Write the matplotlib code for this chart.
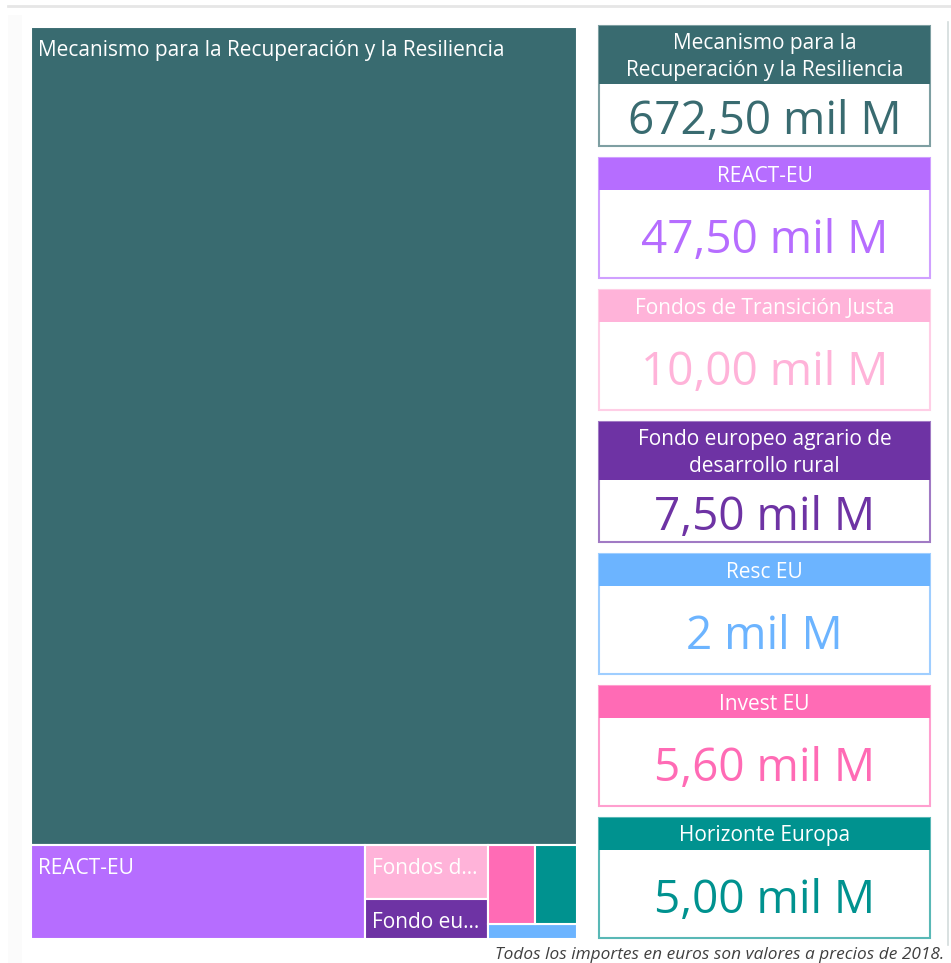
import matplotlib
matplotlib.use("Agg")
import matplotlib.pyplot as plt
from matplotlib.patches import Rectangle
from matplotlib.colors import to_rgb

plt.rcParams['font.family'] = ['Open Sans', 'DejaVu Sans']

# Datos (miles de millones de euros, precios de 2018)
fondos = ["Mecanismo para la Recuperación y la Resiliencia", "REACT-EU",
          "Fondos de Transición Justa", "Fondo europeo agrario de desarrollo rural",
          "Resc EU", "Invest EU", "Horizonte Europa"]
importes = [672.50, 47.50, 10.00, 7.50, 2.00, 5.60, 5.00]
titulos_tarjeta = ["Mecanismo para la\nRecuperación y la Resiliencia", "REACT-EU",
                   "Fondos de Transición Justa", "Fondo europeo agrario de\ndesarrollo rural",
                   "Resc EU", "Invest EU", "Horizonte Europa"]
valores_tarjeta = ["672,50 mil M", "47,50 mil M", "10,00 mil M", "7,50 mil M",
                   "2 mil M", "5,60 mil M", "5,00 mil M"]
colores = ["#396B70", "#B66DFF", "#FFB3D9", "#6E33A4", "#6CB4FF", "#FF6BB5", "#00928F"]
nota = "Todos los importes en euros son valores a precios de 2018."


def squarify(valores, x0, y0, x1, y1, ratio=(1 + 5 ** 0.5) / 2):
    # mismo criterio que d3.treemapSquarify (razón áurea)
    orden = sorted(range(len(valores)), key=lambda i: -valores[i])
    vals = [valores[i] for i in orden]
    total = sum(vals)
    rects = {}
    i0, n = 0, len(vals)
    while i0 < n:
        dx, dy = x1 - x0, y1 - y0
        suma = vals[i0]
        vmin = vmax = suma
        alpha = max(dy / dx, dx / dy) / (total * ratio)
        beta = suma * suma * alpha
        min_ratio = max(vmax / beta, beta / vmin)
        i1 = i0 + 1
        while i1 < n:
            v = vals[i1]
            s2 = suma + v
            beta = s2 * s2 * alpha
            nuevo = max(max(vmax, v) / beta, beta / min(vmin, v))
            if nuevo > min_ratio:
                break
            suma, vmin, vmax, min_ratio = s2, min(vmin, v), max(vmax, v), nuevo
            i1 += 1
        if dx < dy:
            h = dy * suma / total
            xa = x0
            for k in range(i0, i1):
                w = dx * vals[k] / suma
                rects[orden[k]] = (xa, y0, w, h)
                xa += w
            y0 += h
        else:
            w = dx * suma / total
            ya = y0
            for k in range(i0, i1):
                h = dy * vals[k] / suma
                rects[orden[k]] = (x0, ya, w, h)
                ya += h
            x0 += w
        total -= suma
        i0 = i1
    return rects


def aclarar(color, f):
    r, g, b = to_rgb(color)
    return (r + (1 - r) * f, g + (1 - g) * f, b + (1 - b) * f)


fig = plt.figure(figsize=(9.51, 9.63), dpi=100)
ax = fig.add_axes([0, 0, 1, 1])
ax.set_xlim(0, 951)
ax.set_ylim(963, 0)
ax.axis("off")
renderer = fig.canvas.get_renderer()

# fondo del panel
ax.plot([8, 951], [6, 6], color="#e6e6e6", lw=2)
ax.add_patch(Rectangle((8, 15), 14, 948, facecolor="#fbfbfb", edgecolor="none"))
ax.plot([948, 948], [22, 945], color="#d3dcdc", lw=1.2)

# Treemap
rects = squarify(importes, 31, 27, 577, 939)
for i, nombre in enumerate(fondos):
    x, y, w, h = rects[i]
    ax.add_patch(Rectangle((x, y), w, h, facecolor=colores[i], edgecolor="white", lw=1.5))
    if h < 34:
        continue
    t = ax.text(x + 7, y + 29, nombre, color="white", fontsize=15, va="baseline", ha="left")
    txt = nombre
    while t.get_window_extent(renderer).width > w - 12 and txt:
        txt = txt[:-1]
        t.set_text(txt.rstrip() + "...")
    if len(txt) < 5:
        t.remove()

# Tarjetas
for i, (titulo, valor) in enumerate(zip(titulos_tarjeta, valores_tarjeta)):
    top = 26 + i * 132
    alto_cab = 58 if "\n" in titulo else 32
    c = colores[i]
    ax.add_patch(Rectangle((599, top), 331, 120, facecolor="white",
                           edgecolor=aclarar(c, 0.35), lw=1.5))
    ax.add_patch(Rectangle((599, top), 331, alto_cab, facecolor=c, edgecolor="none"))
    ax.text(764.5, top + alto_cab / 2 + 2, titulo, color="white", fontsize=15,
            ha="center", va="center", linespacing=1.4)
    centro = top + alto_cab + (120 - alto_cab) / 2
    ax.text(764.5, centro + 19, valor, color=c, fontsize=33, ha="center", va="baseline")

ax.text(944, 959, nota, color="#404040", fontsize=12.4, style="italic", ha="right", va="baseline")

fig.savefig("out.png", dpi=100)
